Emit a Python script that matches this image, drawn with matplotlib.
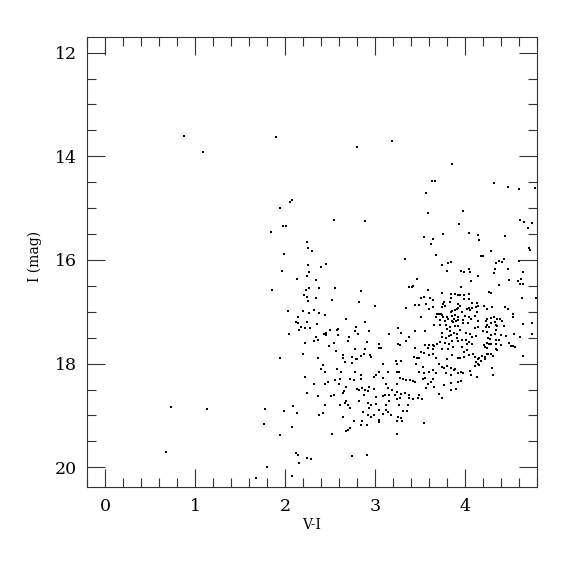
import numpy as np
import matplotlib
matplotlib.use("Agg")
import matplotlib.pyplot as plt
from matplotlib.ticker import MultipleLocator

bright = [(0.88, 13.60), (1.90, 13.63), (1.09, 13.91), (2.08, 14.84), (2.06, 14.89),
          (1.94, 15.00), (1.98, 15.35), (2.01, 15.35), (1.85, 15.47), (1.99, 15.89),
          (3.19, 13.70), (2.80, 13.82), (3.86, 14.14), (3.63, 14.48), (3.67, 14.48),
          (4.32, 14.51), (4.48, 14.60), (4.60, 14.63), (4.78, 14.61), (3.57, 14.71),
          (3.59, 15.09), (3.98, 15.06), (2.55, 15.22), (2.89, 15.24), (3.93, 15.31),
          (4.61, 15.23), (4.66, 15.26), (4.74, 15.28), (4.70, 15.39), (3.54, 15.55),
          (3.65, 15.60), (3.62, 15.70), (3.76, 15.49), (4.04, 15.48), (4.14, 15.51),
          (4.16, 15.61), (4.45, 15.54), (2.25, 15.65), (2.26, 15.76), (2.30, 15.82),
          (3.68, 15.90), (4.18, 15.93), (4.20, 15.93), (4.29, 15.83), (4.71, 15.77),
          (4.72, 15.80), (4.43, 15.98), (3.33, 15.98)]

faint_blue = [(1.86, 16.58), (0.73, 18.83), (1.13, 18.88), (1.78, 18.88), (1.77, 19.17),
              (0.68, 19.71), (1.80, 19.99), (1.68, 20.20), (2.12, 19.73), (2.15, 19.76),
              (2.16, 19.91), (2.24, 19.82), (2.29, 19.84), (2.75, 19.79), (2.91, 19.76),
              (2.08, 20.16)]

blue_mid = [(2.26, 16.09), (2.46, 16.07), (2.40, 16.14), (1.97, 16.21), (2.27, 16.23),
            (2.24, 16.30), (2.13, 16.36), (2.34, 16.38), (2.27, 16.55), (2.23, 16.57),
            (2.38, 16.54), (2.56, 16.55), (2.85, 16.59), (2.21, 16.67), (2.24, 16.71),
            (2.34, 16.74), (2.26, 16.79), (2.52, 16.77), (2.82, 16.82), (2.03, 16.98),
            (2.20, 16.99), (2.32, 16.96), (2.27, 17.02), (2.38, 17.02), (2.44, 17.06),
            (2.14, 17.11), (2.12, 17.19), (2.15, 17.22), (2.25, 17.20), (2.36, 17.23),
            (2.68, 17.13), (2.89, 17.20), (2.18, 17.29), (2.22, 17.31), (2.28, 17.31),
            (2.16, 17.35), (2.50, 17.35), (2.59, 17.33), (2.58, 17.36), (2.79, 17.29),
            (2.78, 17.38), (2.81, 17.42), (2.93, 17.38), (2.05, 17.42), (2.43, 17.42),
            (2.46, 17.41), (2.46, 17.45), (2.59, 17.44), (2.34, 17.49), (2.71, 17.49),
            (2.32, 17.56), (2.37, 17.55), (2.22, 17.60), (2.55, 17.61), (2.70, 17.56),
            (2.49, 17.66), (2.91, 17.58), (2.78, 17.72), (2.89, 17.71)]

clump_left = [(3.75, 16.10), (3.81, 16.06), (3.85, 16.03), (3.80, 16.21), (3.47, 16.37),
              (3.38, 16.52), (3.41, 16.53), (3.42, 16.50), (3.59, 16.57), (3.00, 16.89),
              (3.35, 16.93), (3.51, 16.73), (3.55, 16.71), (3.61, 16.74), (3.64, 16.77),
              (3.74, 16.63), (3.84, 16.74), (3.84, 16.66), (3.89, 16.65), (3.92, 16.68),
              (3.45, 16.87), (3.49, 16.86), (3.57, 16.85), (3.64, 16.91), (3.60, 16.95),
              (3.51, 17.11), (3.75, 16.90), (3.76, 16.84), (3.77, 16.82), (3.78, 16.89),
              (3.83, 16.82), (3.84, 17.00), (3.86, 16.99), (3.89, 16.97), (3.91, 16.95),
              (3.92, 16.92), (3.92, 16.84), (3.69, 17.05), (3.71, 17.05), (3.73, 17.04),
              (3.74, 17.06), (3.68, 17.10), (3.80, 17.10), (3.76, 17.10), (3.81, 17.13),
              (3.86, 17.08), (3.88, 17.13), (3.89, 17.06), (3.92, 17.11), (3.72, 17.16),
              (3.78, 17.18), (3.86, 17.17), (3.87, 17.19), (3.90, 17.17), (3.92, 17.15),
              (3.66, 17.26), (3.72, 17.26), (3.79, 17.26), (3.83, 17.29), (3.89, 17.28),
              (3.92, 17.27), (3.56, 17.38), (3.80, 17.33), (3.83, 17.37), (3.85, 17.45),
              (3.26, 17.32), (3.29, 17.40), (3.16, 17.42), (3.45, 17.37), (3.38, 17.48),
              (3.34, 17.56), (3.74, 17.41), (3.74, 17.49), (3.79, 17.50), (3.82, 17.47),
              (3.88, 17.40), (3.91, 17.42), (3.92, 17.57), (3.91, 17.51), (3.72, 17.58),
              (3.69, 17.63), (3.78, 17.60), (3.82, 17.62), (3.86, 17.57), (3.64, 17.64),
              (3.66, 17.66), (3.60, 17.65), (3.56, 17.65), (3.45, 17.69), (3.26, 17.62),
              (3.28, 17.64), (3.04, 17.63), (3.05, 17.70), (3.07, 17.70), (3.59, 17.69),
              (3.64, 17.71), (3.74, 17.71), (3.81, 17.72), (3.87, 17.68)]

clump_right = [(4.34, 16.06), (4.38, 16.02), (4.41, 16.03), (4.60, 16.02), (4.33, 16.18),
               (4.48, 16.17), (4.32, 16.25), (4.64, 16.24), (3.96, 16.21), (3.99, 16.23),
               (4.05, 16.18), (4.06, 16.23), (4.15, 16.30), (4.07, 16.41), (4.49, 16.39),
               (4.59, 16.41), (4.62, 16.36), (4.61, 16.47), (4.64, 16.47), (4.38, 16.48),
               (3.96, 16.52), (4.27, 16.61), (4.29, 16.63), (3.94, 16.68), (3.99, 16.68),
               (4.05, 16.66), (3.99, 16.75), (4.05, 16.75), (4.63, 16.73), (4.79, 16.73),
               (4.08, 16.83), (4.13, 16.83), (4.15, 16.88), (4.12, 16.91), (4.08, 16.93),
               (4.05, 16.92), (4.02, 16.95), (4.06, 16.97), (3.94, 16.88), (4.21, 16.88),
               (3.97, 17.00), (4.00, 17.08), (4.05, 17.10), (4.11, 17.08), (4.13, 17.01),
               (4.25, 16.95), (4.30, 16.90), (4.44, 16.90), (4.48, 16.95), (4.53, 17.05),
               (4.53, 17.10), (3.98, 17.16), (4.07, 17.13), (4.14, 17.17), (4.25, 17.13),
               (4.29, 17.12), (4.32, 17.11), (4.36, 17.13), (4.39, 17.14), (4.23, 17.17),
               (4.41, 17.17), (4.33, 17.19), (4.29, 17.22), (4.25, 17.26), (4.27, 17.29),
               (4.23, 17.29), (4.34, 17.26), (4.36, 17.28), (4.43, 17.28), (4.14, 17.29),
               (3.98, 17.22), (4.03, 17.22), (4.11, 17.32), (3.95, 17.36), (4.01, 17.40),
               (4.06, 17.43), (4.08, 17.48), (4.12, 17.46), (4.20, 17.37), (4.25, 17.39),
               (4.29, 17.45), (4.33, 17.42), (4.35, 17.35), (4.40, 17.45), (4.46, 17.46),
               (4.54, 17.43), (4.61, 17.49), (4.65, 17.24), (4.75, 17.21), (4.75, 17.42),
               (4.26, 17.50), (4.28, 17.53), (4.34, 17.55), (4.38, 17.55), (3.97, 17.55),
               (4.01, 17.55), (4.05, 17.59), (3.97, 17.67), (4.02, 17.63), (4.08, 17.63),
               (4.24, 17.61), (4.27, 17.63), (4.29, 17.62), (4.35, 17.63), (4.40, 17.64),
               (4.49, 17.60), (4.21, 17.64), (4.22, 17.67), (4.25, 17.69), (4.35, 17.71),
               (4.36, 17.73), (4.51, 17.66), (4.53, 17.66), (4.56, 17.67)]

faint_mid = [(1.95, 17.90), (2.20, 17.82), (2.57, 17.76), (2.64, 17.84), (2.65, 17.89),
             (2.37, 17.89), (2.75, 17.87), (2.79, 17.91), (2.85, 17.85), (2.88, 17.82),
             (2.67, 17.96), (2.74, 17.98), (2.80, 17.92), (2.42, 18.02), (2.40, 18.10),
             (2.44, 18.16), (2.58, 18.11), (2.62, 18.17), (2.22, 18.26), (2.32, 18.40),
             (2.44, 18.40), (2.48, 18.36), (2.56, 18.31), (2.61, 18.29), (2.60, 18.40),
             (2.72, 18.30), (2.77, 18.31), (2.78, 18.16), (2.85, 18.22), (2.84, 18.29),
             (2.68, 18.45), (2.80, 18.49), (2.82, 18.51), (2.86, 18.47), (2.89, 18.51),
             (2.93, 18.46), (2.92, 18.53), (2.24, 18.56), (2.37, 18.63), (2.51, 18.62),
             (2.54, 18.60), (2.64, 18.56), (2.66, 18.52), (2.88, 18.60), (2.68, 18.72),
             (2.67, 18.76), (2.61, 18.79), (2.70, 18.80), (2.72, 18.85), (2.82, 18.72),
             (2.92, 18.75), (2.93, 18.85), (2.09, 18.82), (1.99, 18.92), (2.13, 18.96),
             (2.44, 18.80), (2.38, 18.99), (2.42, 18.96), (2.65, 19.03), (2.87, 18.94),
             (2.92, 18.99), (2.77, 19.11), (2.86, 19.11), (2.84, 19.19), (2.91, 19.18),
             (2.08, 19.22), (2.52, 19.35), (2.70, 19.28), (2.72, 19.25), (2.68, 19.30),
             (1.94, 19.38)]

faint_red = [(2.94, 17.84), (2.96, 17.87), (3.51, 17.77), (3.54, 17.80), (3.43, 17.87),
             (3.47, 17.90), (3.49, 17.90), (3.60, 17.84), (3.65, 17.82), (3.68, 17.90),
             (3.80, 17.91), (3.86, 17.84), (3.92, 17.90), (3.09, 18.00), (3.23, 17.95),
             (3.29, 17.95), (3.24, 18.00), (3.46, 18.00), (3.53, 18.06), (3.71, 18.00),
             (3.74, 18.06), (3.77, 18.09), (3.80, 18.05), (3.85, 18.08), (3.88, 18.13),
             (3.49, 18.16), (3.55, 18.19), (3.60, 18.16), (3.65, 18.13), (3.68, 18.19),
             (3.79, 18.19), (3.84, 18.21), (3.92, 18.19), (3.04, 18.17), (3.14, 18.16),
             (3.25, 18.16), (3.27, 18.17), (2.99, 18.25), (3.01, 18.22), (3.09, 18.27),
             (3.28, 18.27), (3.31, 18.30), (3.35, 18.32), (3.39, 18.31), (3.42, 18.34),
             (3.45, 18.36), (3.53, 18.29), (3.56, 18.27), (3.65, 18.29), (3.62, 18.36),
             (3.59, 18.40), (3.57, 18.47), (3.66, 18.45), (3.77, 18.42), (3.84, 18.38),
             (3.92, 18.36), (3.25, 18.40), (3.12, 18.40), (3.14, 18.47), (3.19, 18.51),
             (3.24, 18.54), (2.99, 18.48), (3.11, 18.60), (3.09, 18.62), (3.16, 18.61),
             (3.22, 18.61), (3.29, 18.58), (3.33, 18.56), (3.38, 18.60), (3.38, 18.67),
             (3.42, 18.69), (3.48, 18.67), (3.49, 18.61), (3.52, 18.69), (3.16, 18.72),
             (3.24, 18.69), (3.28, 18.67), (3.71, 18.58), (3.74, 18.66), (3.84, 18.50),
             (3.90, 18.49), (3.01, 18.65), (3.01, 18.77), (2.96, 18.80), (3.12, 18.79),
             (3.27, 18.79), (3.37, 18.79), (3.05, 18.90), (3.12, 18.89), (3.15, 18.93),
             (3.18, 18.99), (2.99, 18.99), (2.96, 19.03), (3.09, 18.98), (3.31, 18.91),
             (3.36, 18.92), (3.26, 19.03), (3.29, 19.05), (3.04, 19.09), (3.05, 19.12),
             (3.24, 19.11), (3.30, 19.11), (3.54, 19.15), (3.25, 19.35),
             (3.99, 17.77), (4.02, 17.74), (4.05, 17.84), (4.09, 17.82), (4.11, 17.87),
             (3.94, 17.90), (3.99, 17.87), (4.14, 17.91), (4.16, 17.90), (4.18, 17.95),
             (4.19, 17.85), (4.22, 17.87), (4.24, 17.82), (4.26, 17.82), (4.29, 17.82),
             (4.31, 17.85), (4.22, 17.91), (4.12, 17.96), (4.15, 18.00), (4.11, 18.04),
             (4.16, 18.03), (3.89, 18.11), (3.96, 18.16), (3.98, 18.19), (3.96, 18.34),
             (4.06, 18.15), (4.07, 18.21), (4.13, 18.25), (4.30, 18.08), (4.31, 18.22),
             (4.65, 17.85)]

groups = [bright, faint_blue, blue_mid, clump_left, clump_right, faint_mid, faint_red]
pts = np.array([p for g in groups for p in g])
vi = pts[:, 0]
imag = pts[:, 1]

plt.rcParams['font.family'] = 'DejaVu Serif'

fig = plt.figure(figsize=(5.75, 5.75), dpi=100)
ax = fig.add_axes([0.1513, 0.153, 0.7826, 0.7826])

ax.scatter(vi, imag, s=2.8, marker='s', c='k', linewidths=0)

ax.set_xlim(-0.2, 4.8)
ax.set_ylim(20.38, 11.70)
ax.xaxis.set_major_locator(MultipleLocator(1))
ax.xaxis.set_minor_locator(MultipleLocator(0.2))
ax.yaxis.set_major_locator(MultipleLocator(2))
ax.yaxis.set_minor_locator(MultipleLocator(0.5))

ax.tick_params(which='both', direction='in', top=True, right=True,
               width=0.8, color='#333333', labelsize=12.5)
ax.tick_params(which='major', length=13)
ax.tick_params(which='minor', length=6.5)
ax.tick_params(axis='x', pad=8)
ax.tick_params(axis='y', pad=7)
for s in ax.spines.values():
    s.set_linewidth(0.8)
    s.set_color('#333333')

ax.set_xlabel('V-I', fontsize=10, labelpad=2)
ax.set_ylabel('I (mag)', fontsize=10)
ax.yaxis.set_label_coords(-0.10, 0.513)

fig.savefig('out.png', dpi=100)
